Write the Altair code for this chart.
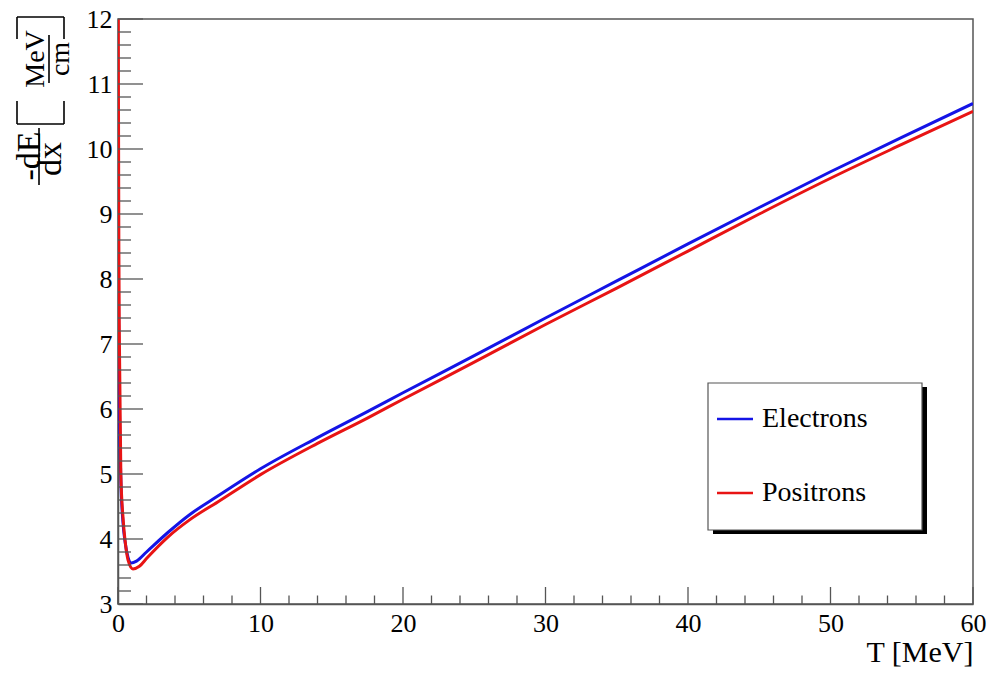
import altair as alt
import pandas as pd

# ---- data ----
series_names = ["Electrons", "Positrons"]
series_colors = ["#1414e6", "#e81414"]

e_T = [0.01, 0.03, 0.06, 0.1, 0.2, 0.35, 0.5, 0.7, 0.93, 1.3, 2.0, 3.5, 5.0, 7.0, 10.0,
       14.0, 17.5, 20.0, 25.0, 30.0, 35.0, 40.0, 45.0, 50.0, 55.0, 60.0]
e_V = [9.8, 8.0, 6.8, 6.0, 4.9, 4.25, 3.95, 3.72, 3.63, 3.66, 3.8, 4.1, 4.37, 4.66, 5.08,
       5.56, 5.96, 6.25, 6.82, 7.40, 7.97, 8.54, 9.1, 9.65, 10.18, 10.70]

p_T = [0.01, 0.03, 0.06, 0.1, 0.2, 0.37, 0.5, 0.7, 1.05, 1.5, 2.0, 3.5, 5.0, 7.0, 10.0,
       14.0, 17.5, 20.0, 25.0, 30.0, 35.0, 40.0, 45.0, 50.0, 55.0, 60.0]
p_V = [14.0, 11.0, 8.5, 7.0, 5.0, 4.28, 3.97, 3.68, 3.54, 3.58, 3.70, 4.03, 4.29, 4.57, 4.99,
       5.47, 5.86, 6.15, 6.72, 7.30, 7.86, 8.43, 9.0, 9.55, 10.07, 10.58]

x_major = [0, 10, 20, 30, 40, 50, 60]
x_minor = [v for v in range(0, 61, 2) if v % 10 != 0]
y_major = [3, 4, 5, 6, 7, 8, 9, 10, 11, 12]
y_minor = [round(3 + 0.2 * i, 1) for i in range(46) if i % 5 != 0]

W, H = 855, 585
TOP = 11
FONT = "Liberation Serif"
AX = "#555555"

df = pd.DataFrame(
    {"T": e_T + p_T, "v": e_V + p_V,
     "s": [series_names[0]] * len(e_T) + [series_names[1]] * len(p_T)}
)

xs = alt.Scale(domain=[0, 60], nice=False, zero=False)
ys = alt.Scale(domain=[3, 12], nice=False, zero=False)

base_axis = dict(grid=False, ticks=False, domainColor=AX, domainWidth=1.5,
                 labelFont=FONT, labelFontSize=26, labelColor="black",
                 labelOverlap=False, labelFlush=False, format="d")

lines = alt.Chart(df).mark_line(strokeWidth=3, clip=True, interpolate="monotone").encode(
    x=alt.X("T:Q", scale=xs,
            axis=alt.Axis(values=x_major, labelPadding=6, title="T [MeV]",
                          titleFont=FONT, titleFontSize=30, titleFontWeight="normal",
                          titleAnchor="end", titlePadding=1, titleColor="black",
                          **base_axis)),
    y=alt.Y("v:Q", scale=ys,
            axis=alt.Axis(values=y_major, labelPadding=6, title=None, **base_axis)),
    color=alt.Color("s:N", scale=alt.Scale(domain=series_names, range=series_colors),
                    legend=None),
    order=alt.Order("T:Q"),
)

def tick_layer(vals, channel, length):
    d = pd.DataFrame({"t": vals})
    if channel == "x":
        enc = dict(x=alt.X("t:Q", scale=xs), y=alt.value(H), y2=alt.value(H - length))
    else:
        enc = dict(y=alt.Y("t:Q", scale=ys), x=alt.value(0), x2=alt.value(length))
    return alt.Chart(d).mark_rule(color=AX, strokeWidth=1.3).encode(**enc)

ticks = [tick_layer(x_major, "x", 17), tick_layer(x_minor, "x", 8.5),
         tick_layer(y_major, "y", 25), tick_layer(y_minor, "y", 13)]

# offset so that overlay items keep their page position when the plot top moves
dy = (TOP + 8) - 16

# ---- manual legend with shadow ----
one = pd.DataFrame({"a": [0]})
shadow = alt.Chart(one).mark_rect(fill="black").encode(
    x=alt.value(595), x2=alt.value(809), y=alt.value(371 - dy), y2=alt.value(518 - dy))
box = alt.Chart(one).mark_rect(fill="white", stroke=AX, strokeWidth=1.2).encode(
    x=alt.value(590), x2=alt.value(804), y=alt.value(367 - dy), y2=alt.value(514 - dy))
leg = [shadow, box]
for i, (nm, col) in enumerate(zip(series_names, series_colors)):
    yy = 403 + 74 * i - dy
    leg.append(alt.Chart(one).mark_rule(color=col, strokeWidth=2.5).encode(
        x=alt.value(599), x2=alt.value(635), y=alt.value(yy)))
    leg.append(alt.Chart(one).mark_text(text=nm, font=FONT, fontSize=28, align="left",
                                        baseline="middle", color="black").encode(
        x=alt.value(644), y=alt.value(yy)))

# ---- y title as fraction ----
def rtxt(t, x, y, size):
    return alt.Chart(one).mark_text(text=t, font=FONT, fontSize=size, angle=270,
                                    align="center", baseline="middle", color="black").encode(
        x=alt.value(x), y=alt.value(y - dy))

def seg(x1, x2, y1, y2):
    return alt.Chart(one).mark_rule(color="black", strokeWidth=1.6).encode(
        x=alt.value(x1), x2=alt.value(x2), y=alt.value(y1 - dy), y2=alt.value(y2 - dy))

ytitle = [
    rtxt("-dE", -88, 140, 34), seg(-79, -79, 112, 169), rtxt("dx", -67, 143, 34),
    # "[" bracket
    seg(-101, -54, 108, 108), seg(-101, -101, 108, 85), seg(-54, -54, 108, 85),
    rtxt("MeV", -82, 43, 28), seg(-69, -69, 19, 67), rtxt("cm", -57, 43, 28),
    # "]" bracket
    seg(-101, -54, 1, 1), seg(-101, -101, 1, 23), seg(-54, -54, 1, 23),
]

chart = alt.layer(lines, *ticks, *leg, *ytitle).properties(
    width=W, height=H,
    autosize=alt.AutoSizeParams(type="none"),
    padding={"left": 110, "top": TOP, "right": 14, "bottom": 65},
).configure_view(stroke=AX, strokeWidth=1.5).configure_axis(labelFont=FONT, titleFont=FONT)

chart.save("out.html", embed_options={"renderer": "svg", "actions": False})
